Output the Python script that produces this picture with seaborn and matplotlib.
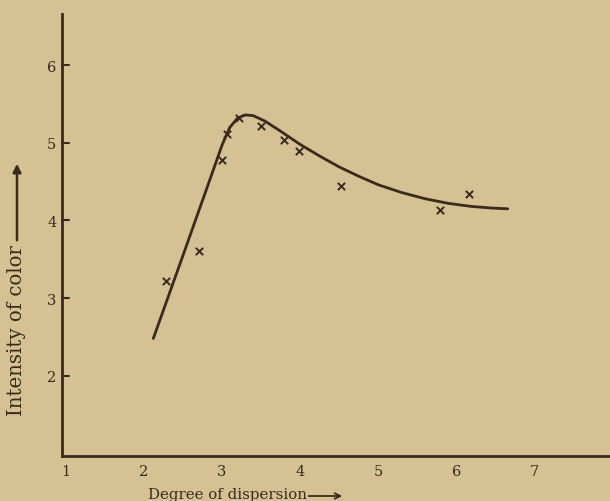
import matplotlib
matplotlib.use("Agg")
import matplotlib.pyplot as plt
import seaborn as sns

# observed points (crosses)
obs_x = [2.28, 2.70, 3.00, 3.07, 3.22, 3.50, 3.79, 3.99, 4.53, 5.79, 6.17]
obs_y = [3.22, 3.60, 4.78, 5.12, 5.32, 5.22, 5.04, 4.90, 4.44, 4.14, 4.34]

# hand-drawn curve
curve_x = [2.12, 2.50, 2.80, 3.00, 3.10, 3.20, 3.30, 3.40, 3.55, 3.75, 4.00,
           4.25, 4.50, 4.75, 5.00, 5.30, 5.60, 5.90, 6.20, 6.45, 6.66]
curve_y = [2.48, 3.55, 4.40, 4.97, 5.20, 5.32, 5.36, 5.35, 5.28, 5.15, 4.98,
           4.83, 4.69, 4.57, 4.46, 4.36, 4.28, 4.22, 4.18, 4.16, 4.15]

x_ticks = [1, 2, 3, 4, 5, 6, 7]
y_ticks = [2, 3, 4, 5, 6]

paper = '#d6c195'
ink = '#3a2a1b'

sns.set_style('white')
plt.rcParams['font.family'] = ['DejaVu Serif']

fig = plt.figure(figsize=(6.10, 5.02), dpi=100, facecolor=paper)
ax = fig.add_axes([62 / 610, 45 / 502, 548 / 610, 442 / 502])
ax.set_facecolor(paper)

sns.lineplot(x=curve_x, y=curve_y, sort=False, color=ink, linewidth=2.0, ax=ax)
sns.scatterplot(x=obs_x, y=obs_y, marker='x', s=28, color=ink, linewidth=1.4, ax=ax)

ax.set_xlim(0.95, 7.97)
ax.set_ylim(0.965, 6.66)
ax.set_xticks(x_ticks)
ax.set_yticks(y_ticks)
ax.set_xticklabels([str(t) for t in x_ticks], fontsize=10.5, color=ink)
ax.set_yticklabels([str(t) for t in y_ticks], fontsize=10.5, color=ink)
ax.tick_params(axis='x', direction='in', length=5, width=1.5, color=ink, pad=6)
ax.tick_params(axis='y', direction='out', length=0, pad=4)
# y ticks drawn on the inside of the axis
for t in y_ticks:
    ax.plot([0.95, 1.04], [t, t], color=ink, linewidth=1.5, clip_on=False)

for side in ['top', 'right']:
    ax.spines[side].set_visible(False)
for side in ['left', 'bottom']:
    ax.spines[side].set_color(ink)
    ax.spines[side].set_linewidth(2.0)

# labels with arrows
fig.text(148 / 610, 7 / 502, 'Degree of dispersion', fontsize=10.8, color=ink,
         ha='left', va='center')
fig.add_artist(matplotlib.patches.FancyArrowPatch(
    (306 / 610, 5 / 502), (345 / 610, 5 / 502), transform=fig.transFigure,
    arrowstyle='->', mutation_scale=10, color=ink, linewidth=1.3))

fig.text(17 / 610, 171 / 502, 'Intensity of color', fontsize=14.2, color=ink,
         rotation=90, ha='center', va='center')
fig.add_artist(matplotlib.patches.FancyArrowPatch(
    (17 / 610, 258 / 502), (17 / 610, 340 / 502), transform=fig.transFigure,
    arrowstyle='-|>', mutation_scale=12, color=ink, linewidth=1.8))

fig.savefig('out.png', dpi=100, facecolor=paper)
